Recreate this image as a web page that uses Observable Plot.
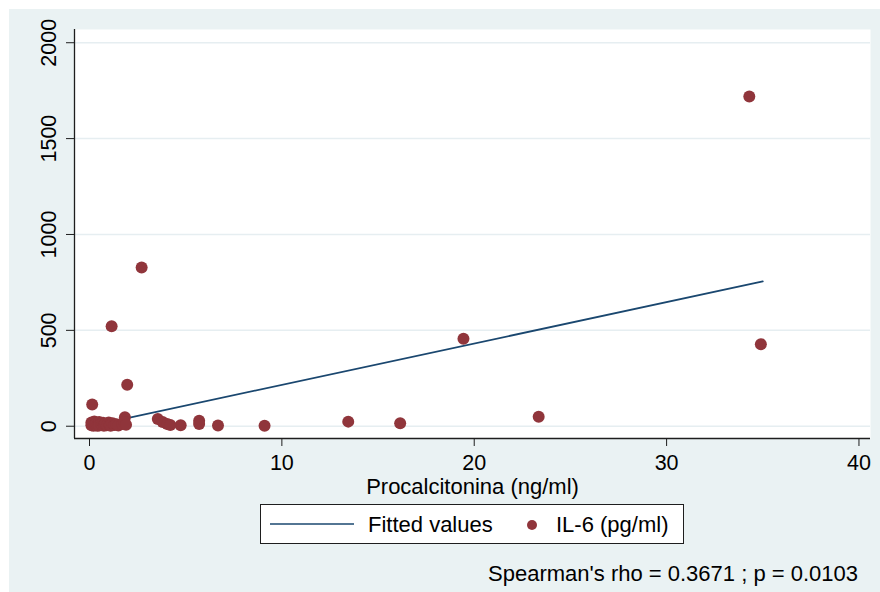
<!DOCTYPE html>
<html>
<head>
<meta charset="utf-8">
<script src="https://cdn.jsdelivr.net/npm/d3@7"></script>
<script src="https://cdn.jsdelivr.net/npm/@observablehq/plot@0.6"></script>
<style>
  html, body { margin: 0; padding: 0; background: #fff; }
  #fig { position: relative; width: 880px; height: 592px; overflow: hidden; background: #fff;
         font-family: "Liberation Sans", Arial, Helvetica, sans-serif; color: #000; }
  #region { position: absolute; left: 9px; top: 9px; right: 0; bottom: 0; background: #eaf2f3; }
  #chart { position: absolute; left: 0; top: 0; }
  #legend { position: absolute; left: 260px; top: 504px; width: 422px; height: 38px;
            background: #fff; border: 1px solid #1e1e1e; font-size: 22px; }
  #legend .key { position: absolute; top: 0; height: 40px; line-height: 40px; white-space: nowrap; }
  #legend svg { position: absolute; }
  #caption { position: absolute; right: 22px; top: 561px; font-size: 22px; white-space: nowrap; }
</style>
</head>
<body>
<div id="fig">
  <div id="region"></div>
  <div id="chart"></div>
  <div id="legend">
    <svg style="left:9px;top:15px" width="84" height="8"><line x1="0" x2="84" y1="4" y2="4" stroke="#1a476f" stroke-width="1.6"/></svg>
    <div class="key" style="left:107px">Fitted values</div>
    <svg style="left:265px;top:14px" width="12" height="12"><circle cx="6" cy="6" r="5" fill="#90353b"/></svg>
    <div class="key" style="left:295px">IL-6 (pg/ml)</div>
  </div>
  <div id="caption">Spearman's rho = 0.3671 ; p = 0.0103</div>
</div>
<script>
// Procalcitonin (ng/ml) and IL-6 (pg/ml) for each patient
const pct = [
  34.3, 2.71, 1.15, 19.44, 34.9, 1.96, 0.14, 1.84, 23.35, 13.45, 16.15, 9.1,
  6.68, 5.7, 5.7, 4.74, 3.55, 3.8, 4.04, 4.2,
  0.1, 0.1, 0.15, 0.2, 0.25, 0.3, 0.35, 0.4, 0.45, 0.5, 0.5, 0.6, 0.65, 0.7,
  0.75, 0.8, 0.9, 1.0, 1.05, 1.1, 1.2, 1.3, 1.4, 1.5, 1.7, 1.8, 1.9
];
const il6 = [
  1720, 828, 522, 456, 428, 216, 113, 47, 50, 24, 16, 3,
  4, 28, 12, 5, 38, 22, 12, 6,
  20, 5, 12, 3, 25, 8, 15, 2, 10, 22, 4, 14, 6, 18,
  3, 12, 5, 20, 8, 3, 15, 6, 10, 4, 12, 22, 8
];

// Linear fit (fitted values), drawn across the observed range
const fitX = [0.1, 35.0];
const fitY = [2, 755];

const xTicks = [0, 10, 20, 30, 40];
const yTicks = [0, 500, 1000, 1500, 2000];
const xDomain = [-0.78, 40.6];
const yDomain = [-64, 2069];

const points = pct.map((x, i) => ({pct: x, il6: il6[i]}));
const fit = fitX.map((x, i) => ({pct: x, il6: fitY[i]}));

const chart = Plot.plot({
  width: 880,
  height: 500,
  marginLeft: 74,
  marginRight: 10,
  marginTop: 29,
  marginBottom: 62,
  style: {background: "transparent", fontFamily: "'Liberation Sans', Arial, sans-serif", fontSize: "21.5px", color: "#000"},
  x: {domain: xDomain},
  y: {domain: yDomain},
  marks: [
    Plot.frame({fill: "#fff", stroke: "none"}),
    Plot.gridY(yTicks, {stroke: "#e6eef1", strokeOpacity: 1, strokeWidth: 1.5}),
    Plot.axisY(yTicks, {tickSize: 8, tickRotate: -90, tickPadding: 11, tickFormat: d3.format("d"), label: null, stroke: "#1e1e1e", fill: "#000"}),
    Plot.axisX(xTicks, {tickSize: 8, tickPadding: 8, tickFormat: d3.format("d"), label: null, stroke: "#1e1e1e", fill: "#000"}),
    Plot.ruleX([xDomain[0]], {stroke: "#1e1e1e", strokeWidth: 1.3}),
    Plot.ruleY([yDomain[0]], {stroke: "#1e1e1e", strokeWidth: 1.3}),
    Plot.text(["Procalcitonina (ng/ml)"], {frameAnchor: "bottom", dy: 40, lineAnchor: "top", fontSize: 22, fill: "#000"}),
    Plot.line(fit, {x: "pct", y: "il6", stroke: "#1a476f", strokeWidth: 1.8}),
    Plot.dot(points, {x: "pct", y: "il6", r: 6, fill: "#90353b", stroke: "none"})
  ]
});
document.getElementById("chart").appendChild(chart);
</script>
</body>
</html>
